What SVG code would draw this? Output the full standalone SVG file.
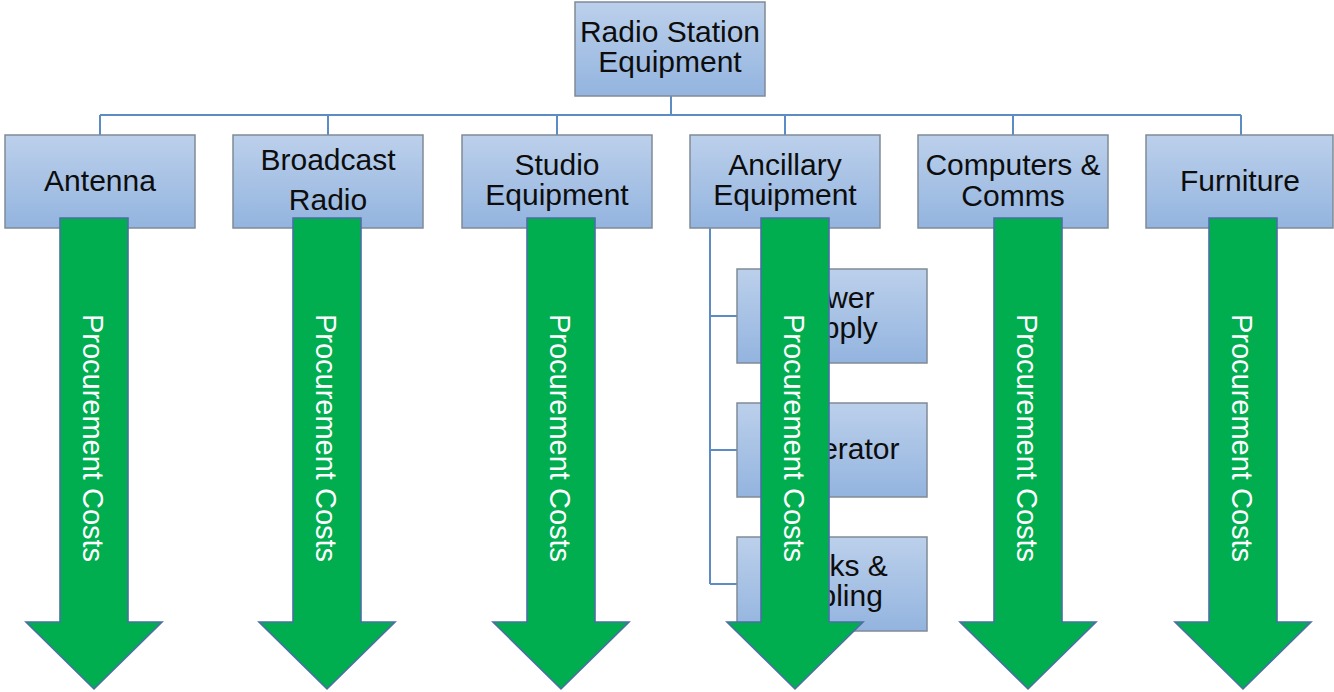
<svg xmlns="http://www.w3.org/2000/svg" xmlns:xlink="http://www.w3.org/1999/xlink" width="1334" height="692" viewBox="0 0 1334 692">
  <style>
    .box { fill: url(#boxFill); stroke: #808a96; stroke-width: 1.5; }
    .lbl { font-family: "Liberation Sans", Arial, sans-serif; font-size: 30px; fill: #0d0d0d; text-anchor: middle; }
    .link { fill: none; stroke: #5d8cc4; stroke-width: 2; }
    .arrow { fill: #00ad4f; stroke: #4a6fa5; stroke-width: 1.6; stroke-linejoin: miter; }
    .cost { font-family: "Liberation Sans", Arial, sans-serif; font-size: 29px; fill: #ffffff; text-anchor: middle; }
  </style>
  <defs>
    <linearGradient id="boxFill" x1="0" y1="0" x2="0" y2="1">
      <stop offset="0" stop-color="#bcd0eb"/>
      <stop offset="1" stop-color="#93b4df"/>
    </linearGradient>
    <!-- downward block arrow, centred on x = 0 -->
    <path id="costArrow" d="M -34 218 H 34 V 622 H 68 L 0 689 L -68 622 H -34 Z"/>
  </defs>
  <rect width="1334" height="692" fill="#ffffff"/>

  <!-- tree connectors -->
  <g id="connectors">
    <path class="link" d="M 671 96 V 115 M 100 115 H 1241 M 100 115 V 135 M 328 115 V 135 M 557 115 V 135 M 785 115 V 135 M 1013 115 V 135 M 1241 115 V 135"/>
    <path class="link" d="M 710 228 V 584 M 710 316 H 737 M 710 450 H 737 M 710 584 H 737"/>
  </g>

  <g id="root">
    <rect class="box" x="575" y="2" width="190" height="94"/>
    <text class="lbl" x="670" y="42">Radio Station</text>
    <text class="lbl" x="670" y="72">Equipment</text>
  </g>

  <g id="antenna">
    <rect class="box" x="5" y="135" width="190" height="93"/>
    <text class="lbl" x="100" y="191">Antenna</text>
  </g>
  <g id="broadcast-radio">
    <rect class="box" x="233" y="135" width="190" height="93"/>
    <text class="lbl" x="328" y="170">Broadcast</text>
    <text class="lbl" x="328" y="210">Radio</text>
  </g>
  <g id="studio-equipment">
    <rect class="box" x="462" y="135" width="190" height="93"/>
    <text class="lbl" x="557" y="175">Studio</text>
    <text class="lbl" x="557" y="205">Equipment</text>
  </g>
  <g id="ancillary-equipment">
    <rect class="box" x="690" y="135" width="190" height="93"/>
    <text class="lbl" x="785" y="175">Ancillary</text>
    <text class="lbl" x="785" y="205">Equipment</text>
  </g>
  <g id="computers-comms">
    <rect class="box" x="918" y="135" width="190" height="93"/>
    <text class="lbl" x="1013" y="175">Computers &amp;</text>
    <text class="lbl" x="1013" y="206">Comms</text>
  </g>
  <g id="furniture">
    <rect class="box" x="1146" y="135" width="187" height="93"/>
    <text class="lbl" x="1240" y="191">Furniture</text>
  </g>

  <!-- ancillary sub-items -->
  <g id="power-supply">
    <rect class="box" x="737" y="269" width="190" height="94"/>
    <text class="lbl" x="832" y="308">Power</text>
    <text class="lbl" x="832" y="338">Supply</text>
  </g>
  <g id="generator">
    <rect class="box" x="737" y="403" width="190" height="94"/>
    <text class="lbl" x="832" y="459">Generator</text>
  </g>
  <g id="racks-cabling">
    <rect class="box" x="737" y="537" width="190" height="94"/>
    <text class="lbl" x="832" y="576">Racks &amp;</text>
    <text class="lbl" x="832" y="606">Cabling</text>
  </g>

  <!-- procurement cost arrows -->
  <g id="cost-antenna">
    <use xlink:href="#costArrow" class="arrow" x="94"/>
    <text class="cost" transform="translate(83 438) rotate(90)">Procurement Costs</text>
  </g>
  <g id="cost-broadcast-radio">
    <use xlink:href="#costArrow" class="arrow" x="327"/>
    <text class="cost" transform="translate(316 438) rotate(90)">Procurement Costs</text>
  </g>
  <g id="cost-studio-equipment">
    <use xlink:href="#costArrow" class="arrow" x="561"/>
    <text class="cost" transform="translate(550 438) rotate(90)">Procurement Costs</text>
  </g>
  <g id="cost-ancillary-equipment">
    <use xlink:href="#costArrow" class="arrow" x="795"/>
    <text class="cost" transform="translate(784 438) rotate(90)">Procurement Costs</text>
  </g>
  <g id="cost-computers-comms">
    <use xlink:href="#costArrow" class="arrow" x="1028"/>
    <text class="cost" transform="translate(1017 438) rotate(90)">Procurement Costs</text>
  </g>
  <g id="cost-furniture">
    <use xlink:href="#costArrow" class="arrow" x="1243"/>
    <text class="cost" transform="translate(1232 438) rotate(90)">Procurement Costs</text>
  </g>
</svg>
